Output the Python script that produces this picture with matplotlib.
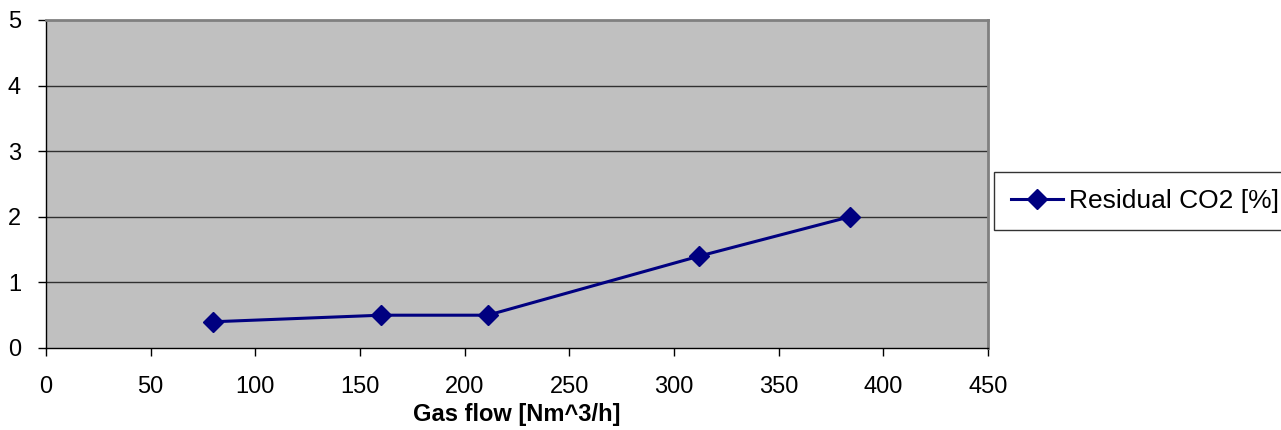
import matplotlib.pyplot as plt
import numpy as np

# Data
gas_flow = [80, 160, 211, 312, 384]
residual_co2 = [0.4, 0.5, 0.5, 1.4, 2.0]
x_ticks = list(range(0, 451, 50))
y_ticks = list(range(0, 6))

plt.rcParams['font.family'] = ['Liberation Sans', 'DejaVu Sans']

W, H = 1281, 430
fig = plt.figure(figsize=(W / 100, H / 100), dpi=100)
ax = fig.add_axes([46 / W, (H - 348) / H, (988 - 46) / W, (348 - 20) / H])

ax.set_facecolor('#C0C0C0')
ax.plot(gas_flow, residual_co2, color='#000080', linewidth=2.2,
        marker='D', markersize=10, label='Residual CO2 [%]', zorder=3)

ax.set_xlim(0, 450)
ax.set_ylim(0, 5)
ax.set_xticks(x_ticks)
ax.set_yticks(y_ticks)

# horizontal gridlines only
for y in y_ticks[1:-1]:
    ax.axhline(y, color='#303030', linewidth=1, zorder=1)

for side in ('top', 'right'):
    ax.spines[side].set_color('#808080')
    ax.spines[side].set_linewidth(2)
for side in ('left', 'bottom'):
    ax.spines[side].set_color('black')
    ax.spines[side].set_linewidth(1)

ax.tick_params(axis='x', direction='out', length=6, width=1, pad=14, labelsize=17)
ax.tick_params(axis='y', direction='out', length=6, width=1, pad=12, labelsize=17)

ax.set_xlabel('Gas flow [Nm^3/h]', fontsize=17, fontweight='bold', labelpad=4)

leg = ax.legend(loc='center left', bbox_to_anchor=(994 / W, 1 - 201 / H, 0.3, 0),
                bbox_transform=fig.transFigure, mode='expand',
                frameon=True, fancybox=False, fontsize=19, borderpad=0.65,
                handlelength=1.95, handletextpad=0.25, borderaxespad=0)
leg.get_frame().set_edgecolor('black')
leg.get_frame().set_linewidth(1)

fig.savefig('out.png', dpi=100)
